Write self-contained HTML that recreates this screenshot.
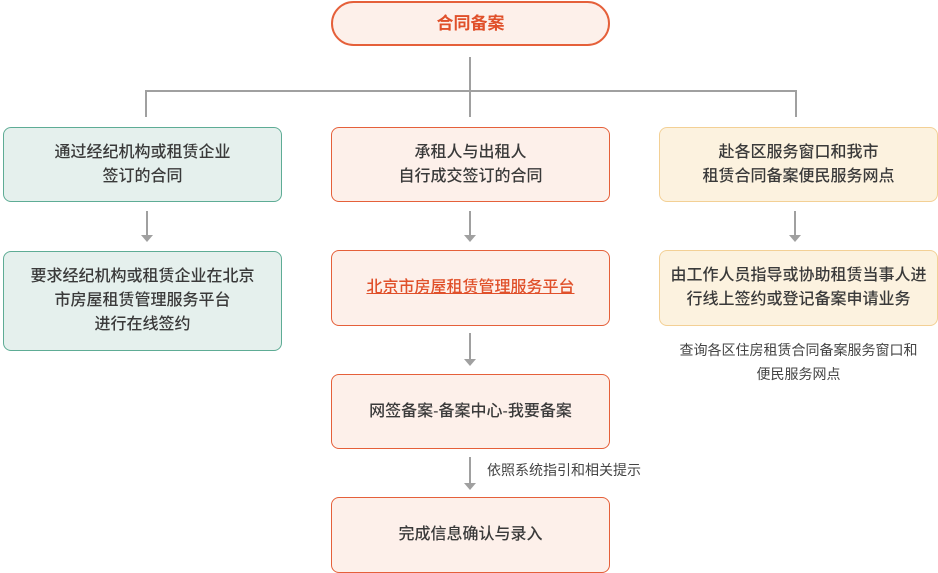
<!DOCTYPE html>
<html><head><meta charset="utf-8"><style>
body{margin:0;width:938px;height:573px;background:#fff;position:relative;overflow:hidden;font-family:"Liberation Sans","Noto Sans CJK SC",sans-serif;color:#3a3a3a}
.b{position:absolute;box-sizing:border-box;border-radius:8px;display:flex;align-items:center;justify-content:center;text-align:center;font-size:16px;line-height:24px;font-weight:500}
.g{background:#e5f0ed;border:1px solid #5eac95}
.o{background:#fdf0ea;border:1px solid #e5603a}
.y{background:#fcf2df;border:1px solid #f3d095}
.l{position:absolute;background:#a0a0a0}
.t{position:absolute;font-size:14px;color:#444;line-height:24px}
</style></head><body>
<div class="b o" style="left:331px;top:1px;width:279px;height:45px;border-radius:23px;border-width:2px;color:#e0502a;font-weight:bold;font-size:17px">合同备案</div>
<div class="l" style="left:469px;top:57px;width:2px;height:60px"></div>
<div class="l" style="left:145px;top:90px;width:652px;height:2px"></div>
<div class="l" style="left:145px;top:90px;width:2px;height:27px"></div>
<div class="l" style="left:795px;top:90px;width:2px;height:27px"></div>

<div class="b g" style="left:3px;top:127px;width:279px;height:75px">通过经纪机构或租赁企业<br>签订的合同</div>
<div class="b g" style="left:3px;top:251px;width:279px;height:100px">要求经纪机构或租赁企业在北京<br>市房屋租赁管理服务平台<br>进行在线签约</div>

<div class="b o" style="left:331px;top:127px;width:279px;height:75px">承租人与出租人<br>自行成交签订的合同</div>
<div class="b o" style="left:331px;top:250px;width:279px;height:76px"><span style="color:#e0502a;text-decoration:underline">北京市房屋租赁管理服务平台</span></div>
<div class="b o" style="left:331px;top:374px;width:279px;height:75px">网签备案-备案中心-我要备案</div>
<div class="b o" style="left:331px;top:497px;width:279px;height:76px">完成信息确认与录入</div>

<div class="b y" style="left:659px;top:127px;width:279px;height:75px">赴各区服务窗口和我市<br>租赁合同备案便民服务网点</div>
<div class="b y" style="left:659px;top:250px;width:279px;height:76px">由工作人员指导或协助租赁当事人进<br>行线上签约或登记备案申请业务</div>
<div class="t" style="left:659px;top:338px;width:279px;text-align:center">查询各区住房租赁合同备案服务窗口和<br>便民服务网点</div>
<div class="t" style="left:487px;top:458px">依照系统指引和相关提示</div>

<svg width="938" height="573" style="position:absolute;left:0;top:0">
<g fill="#a0a0a0" stroke="#a0a0a0" stroke-width="2">
<line x1="147" y1="211" x2="147" y2="235"/><polygon stroke="none" points="141,235 153,235 147,242"/>
<line x1="470" y1="211" x2="470" y2="235"/><polygon stroke="none" points="464,235 476,235 470,242"/>
<line x1="795" y1="211" x2="795" y2="235"/><polygon stroke="none" points="789,235 801,235 795,242"/>
<line x1="470" y1="333" x2="470" y2="359"/><polygon stroke="none" points="464,359 476,359 470,366"/>
<line x1="470" y1="457" x2="470" y2="483"/><polygon stroke="none" points="464,483 476,483 470,490"/>
</g></svg>
</body></html>
